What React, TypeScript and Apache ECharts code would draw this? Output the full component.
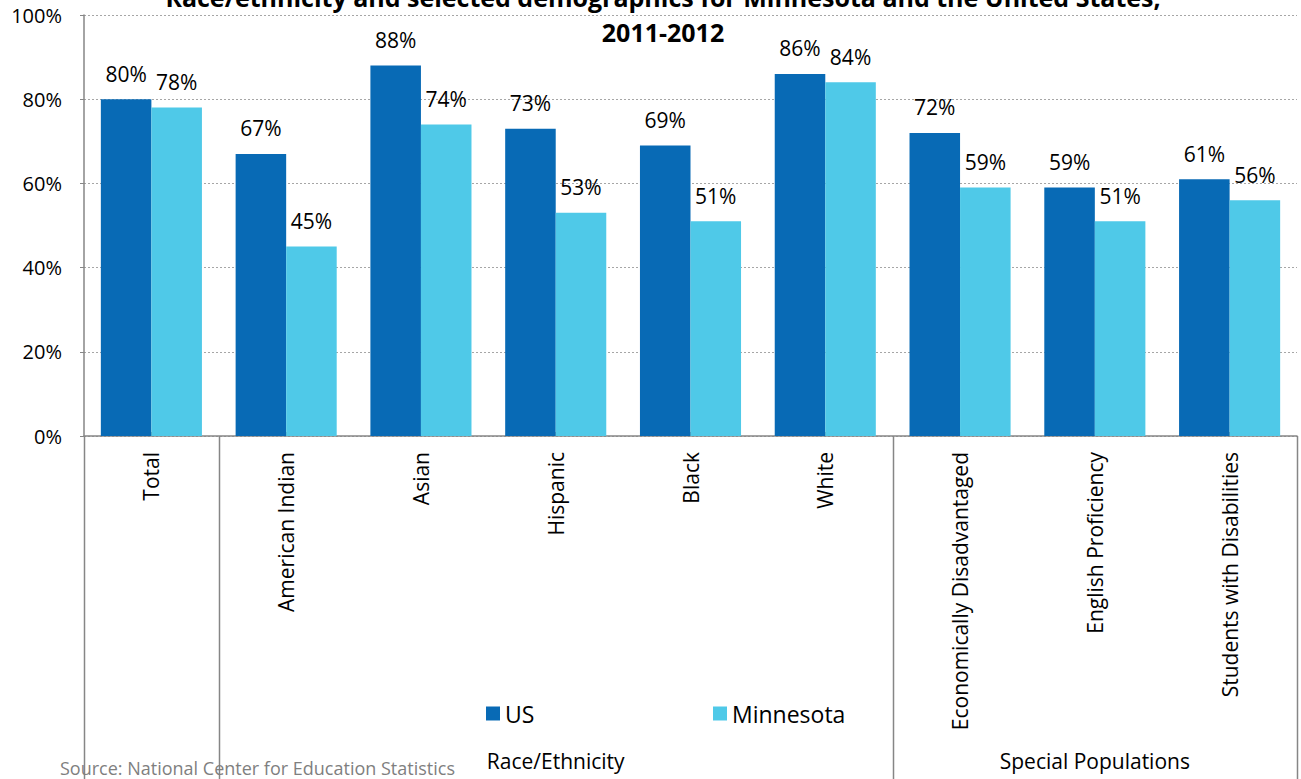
import React, { useEffect, useRef } from "react";
import * as echarts from "echarts";

const categories = [
  "Total",
  "American Indian",
  "Asian",
  "Hispanic",
  "Black",
  "White",
  "Economically Disadvantaged",
  "English Proficiency",
  "Students with Disabilities",
];
const usValues = [80, 67, 88, 73, 69, 86, 72, 59, 61];
const mnValues = [78, 45, 74, 53, 51, 84, 59, 51, 56];
const yTicks = [0, 20, 40, 60, 80, 100];
const groups = [
  { name: "", from: 0, to: 1 },
  { name: "Race/Ethnicity", from: 1, to: 6 },
  { name: "Special Populations", from: 6, to: 9 },
];
const titleLines = [
  "Race/ethnicity and selected demographics for Minnesota and the United States,",
  "2011-2012",
];
const sourceText = "Source: National Center for Education Statistics";

const FONT = "'Open Sans', 'Noto Sans', sans-serif";

export default function App() {
  const ref = useRef<HTMLDivElement>(null);
  useEffect(() => {
    if (!ref.current) return;
    const chart = echarts.init(ref.current, undefined, { renderer: "svg" });
    const W = 1301;
    const H = 779;
    const gl = 84;
    const gr = 4;
    const gt = 15;
    const gb = 343;
    const plotW = W - gl - gr;
    const bandW = plotW / categories.length;
    const axisY = H - gb;

    const graphics: any[] = [];
    const boundaries = new Set<number>();
    groups.forEach((g) => {
      boundaries.add(g.from);
      boundaries.add(g.to);
    });
    Array.from(boundaries).forEach((b) => {
      const x = Math.round(gl + b * bandW) + 0.5;
      graphics.push({
        type: "line",
        shape: { x1: x, y1: axisY, x2: x, y2: H },
        style: { stroke: "#868686", lineWidth: 1.5 },
        z: 1,
      });
    });
    groups.forEach((g) => {
      if (!g.name) return;
      graphics.push({
        type: "text",
        x: gl + ((g.from + g.to) / 2) * bandW,
        y: 761,
        style: {
          text: g.name,
          fontSize: 21,
          fontFamily: FONT,
          fill: "#000",
          align: "center",
          verticalAlign: "middle",
        },
        z: 2,
      });
    });
    graphics.push({
      type: "text",
      x: 60,
      y: 768,
      style: {
        text: sourceText,
        fontSize: 18,
        fontFamily: FONT,
        fill: "#7f7f7f",
        align: "left",
        verticalAlign: "middle",
      },
      z: 3,
    });
    titleLines.forEach((t, i) => {
      graphics.push({
        type: "text",
        x: 663,
        y: -3 + i * 35,
        style: {
          text: t,
          fontSize: 25,
          fontWeight: "bold",
          fontFamily: FONT,
          fill: "#000",
          align: "center",
          verticalAlign: "middle",
        },
        z: 3,
      });
    });

    const labelCfg = {
      show: true,
      position: "top",
      distance: 15,
      formatter: "{c}%",
      fontSize: 21,
      fontFamily: FONT,
      color: "#000",
    };

    const legendText = { fontSize: 23, fontFamily: FONT, color: "#000" };

    chart.setOption({
      animation: false,
      textStyle: { fontFamily: FONT },
      grid: { left: gl, right: gr, top: gt, bottom: gb, containLabel: false },
      legend: [
        {
          data: ["US"],
          left: 481,
          top: 697,
          icon: "rect",
          itemWidth: 14,
          itemHeight: 14,
          itemGap: 5,
          textStyle: legendText,
        },
        {
          data: ["Minnesota"],
          left: 708,
          top: 697,
          icon: "rect",
          itemWidth: 14,
          itemHeight: 14,
          itemGap: 5,
          textStyle: legendText,
        },
      ],
      xAxis: {
        type: "category",
        data: categories,
        axisLine: { show: true, lineStyle: { color: "#868686", width: 1.5 } },
        axisTick: {
          show: true,
          alignWithLabel: true,
          inside: true,
          length: 4,
          lineStyle: { color: "#868686" },
        },
        axisLabel: {
          rotate: 90,
          margin: 16,
          fontSize: 21,
          fontFamily: FONT,
          color: "#000",
          interval: 0,
        },
      },
      yAxis: {
        type: "value",
        min: yTicks[0],
        max: yTicks[yTicks.length - 1],
        interval: 20,
        axisLine: { show: true, lineStyle: { color: "#868686", width: 1.5 } },
        axisTick: { show: true, length: 4, lineStyle: { color: "#868686" } },
        axisLabel: {
          formatter: "{value}%",
          fontSize: 20,
          fontFamily: FONT,
          color: "#000",
          margin: 22,
        },
        splitLine: {
          show: true,
          lineStyle: { color: "#a6a6a6", type: [2, 2], width: 1 },
        },
      },
      series: [
        {
          name: "US",
          type: "bar",
          data: usValues,
          barGap: "0%",
          barCategoryGap: "25%",
          itemStyle: { color: "#086AB5" },
          label: labelCfg,
        },
        {
          name: "Minnesota",
          type: "bar",
          data: mnValues,
          barGap: "0%",
          barCategoryGap: "25%",
          itemStyle: { color: "#4FC9E8" },
          label: labelCfg,
        },
      ],
      graphic: graphics,
    });
    return () => chart.dispose();
  }, []);
  return (
    <div
      ref={ref}
      style={{ position: "fixed", left: 0, top: 0, width: 1301, height: 779, background: "#fff" }}
    />
  );
}
